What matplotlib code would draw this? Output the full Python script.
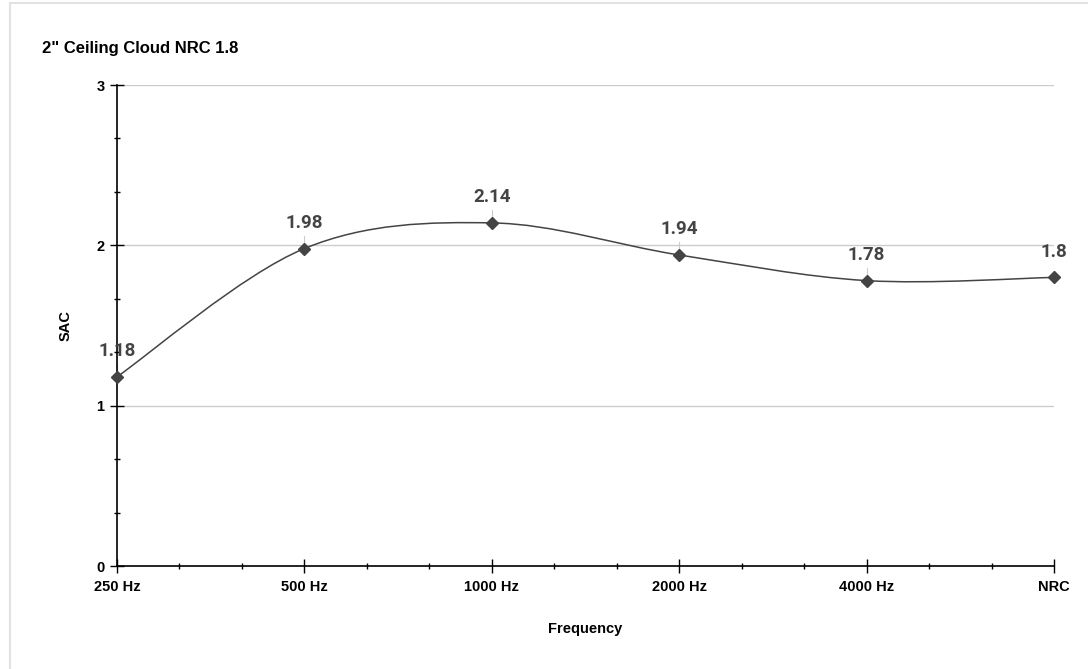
import numpy as np
import matplotlib.pyplot as plt
from matplotlib.path import Path
from matplotlib.patches import PathPatch, Rectangle

categories = ["250 Hz", "500 Hz", "1000 Hz", "2000 Hz", "4000 Hz", "NRC"]
sac = [1.18, 1.98, 2.14, 1.94, 1.78, 1.8]
labels = ["1.18", "1.98", "2.14", "1.94", "1.78", "1.8"]

line_col = "#444444"

fig = plt.figure(figsize=(10.88, 6.69), dpi=100)
fig.patches.append(Rectangle((10 / 1088, -0.01), 1.0, 1.0 - 3 / 669 + 0.01,
                             transform=fig.transFigure, fill=False,
                             edgecolor="#e2e2e2", linewidth=1.5))
ax = fig.add_axes([117 / 1088, 1 - 566 / 669, (1054 - 117) / 1088, (566 - 85) / 669])

x = np.arange(len(categories))
y = np.array(sac)

# smooth curve (catmull-rom -> bezier)
px = np.concatenate([[x[0]], x, [x[-1]]])
py = np.concatenate([[y[0]], y, [y[-1]]])
verts = [(x[0], y[0])]
codes = [Path.MOVETO]
for i in range(1, len(px) - 2):
    p0 = np.array([px[i - 1], py[i - 1]])
    p1 = np.array([px[i], py[i]])
    p2 = np.array([px[i + 1], py[i + 1]])
    p3 = np.array([px[i + 2], py[i + 2]])
    c1 = p1 + (p2 - p0) / 6
    c2 = p2 - (p3 - p1) / 6
    verts += [tuple(c1), tuple(c2), tuple(p2)]
    codes += [Path.CURVE4] * 3
ax.add_patch(PathPatch(Path(verts, codes), facecolor="none", edgecolor=line_col,
                       linewidth=1.1, zorder=3, clip_on=False))
ax.plot(x, y, linestyle="none", marker="D", markersize=6, color=line_col,
        zorder=4, clip_on=False)

for xi, yi, lab in zip(x, y, labels):
    ax.plot([xi, xi], [yi, yi + 0.08], color="#cccccc", linewidth=0.8, zorder=2)
    ax.annotate(lab, (xi, yi), xytext=(0, 12), textcoords="offset points",
                ha="center", va="bottom", fontsize=13.5, fontweight="bold",
                family="Roboto", color=line_col, zorder=5)

ax.set_xlim(0, len(categories) - 1)
ax.set_ylim(0, 3)
ax.set_xticks(x)
ax.set_xticklabels(categories)
ax.set_xticks(np.arange(0, len(categories) - 1 + 0.01, 1 / 3), minor=True)
ax.set_yticks([0, 1, 2, 3])
ax.set_yticks(np.arange(0, 3.01, 1 / 3), minor=True)
ax.yaxis.grid(True, color="#cccccc", linewidth=1)
ax.set_axisbelow(True)

for s in ["top", "right"]:
    ax.spines[s].set_visible(False)
for s in ["left", "bottom"]:
    ax.spines[s].set_color("black")
    ax.spines[s].set_linewidth(1.2)

ax.tick_params(axis="both", which="major", direction="inout", length=10, width=1,
               labelsize=10.5, pad=5)
ax.tick_params(axis="both", which="minor", direction="inout", length=5, width=1)
ax.tick_params(axis="y", which="major", length=10, pad=4)
for t in ax.get_xticklabels() + ax.get_yticklabels():
    t.set_fontweight("bold")
    t.set_family("Liberation Sans")

ax.set_xlabel("Frequency", fontsize=10.5, fontweight="bold", family="Liberation Sans",
              labelpad=20)
ax.set_ylabel("SAC", fontsize=10.5, fontweight="bold", family="Liberation Sans",
              labelpad=17)
fig.text(42 / 1088, 1 - 48 / 669, "2\" Ceiling Cloud NRC 1.8", fontsize=12,
         fontweight="bold", family="Liberation Sans", va="center")

fig.savefig("out.png", dpi=100)
